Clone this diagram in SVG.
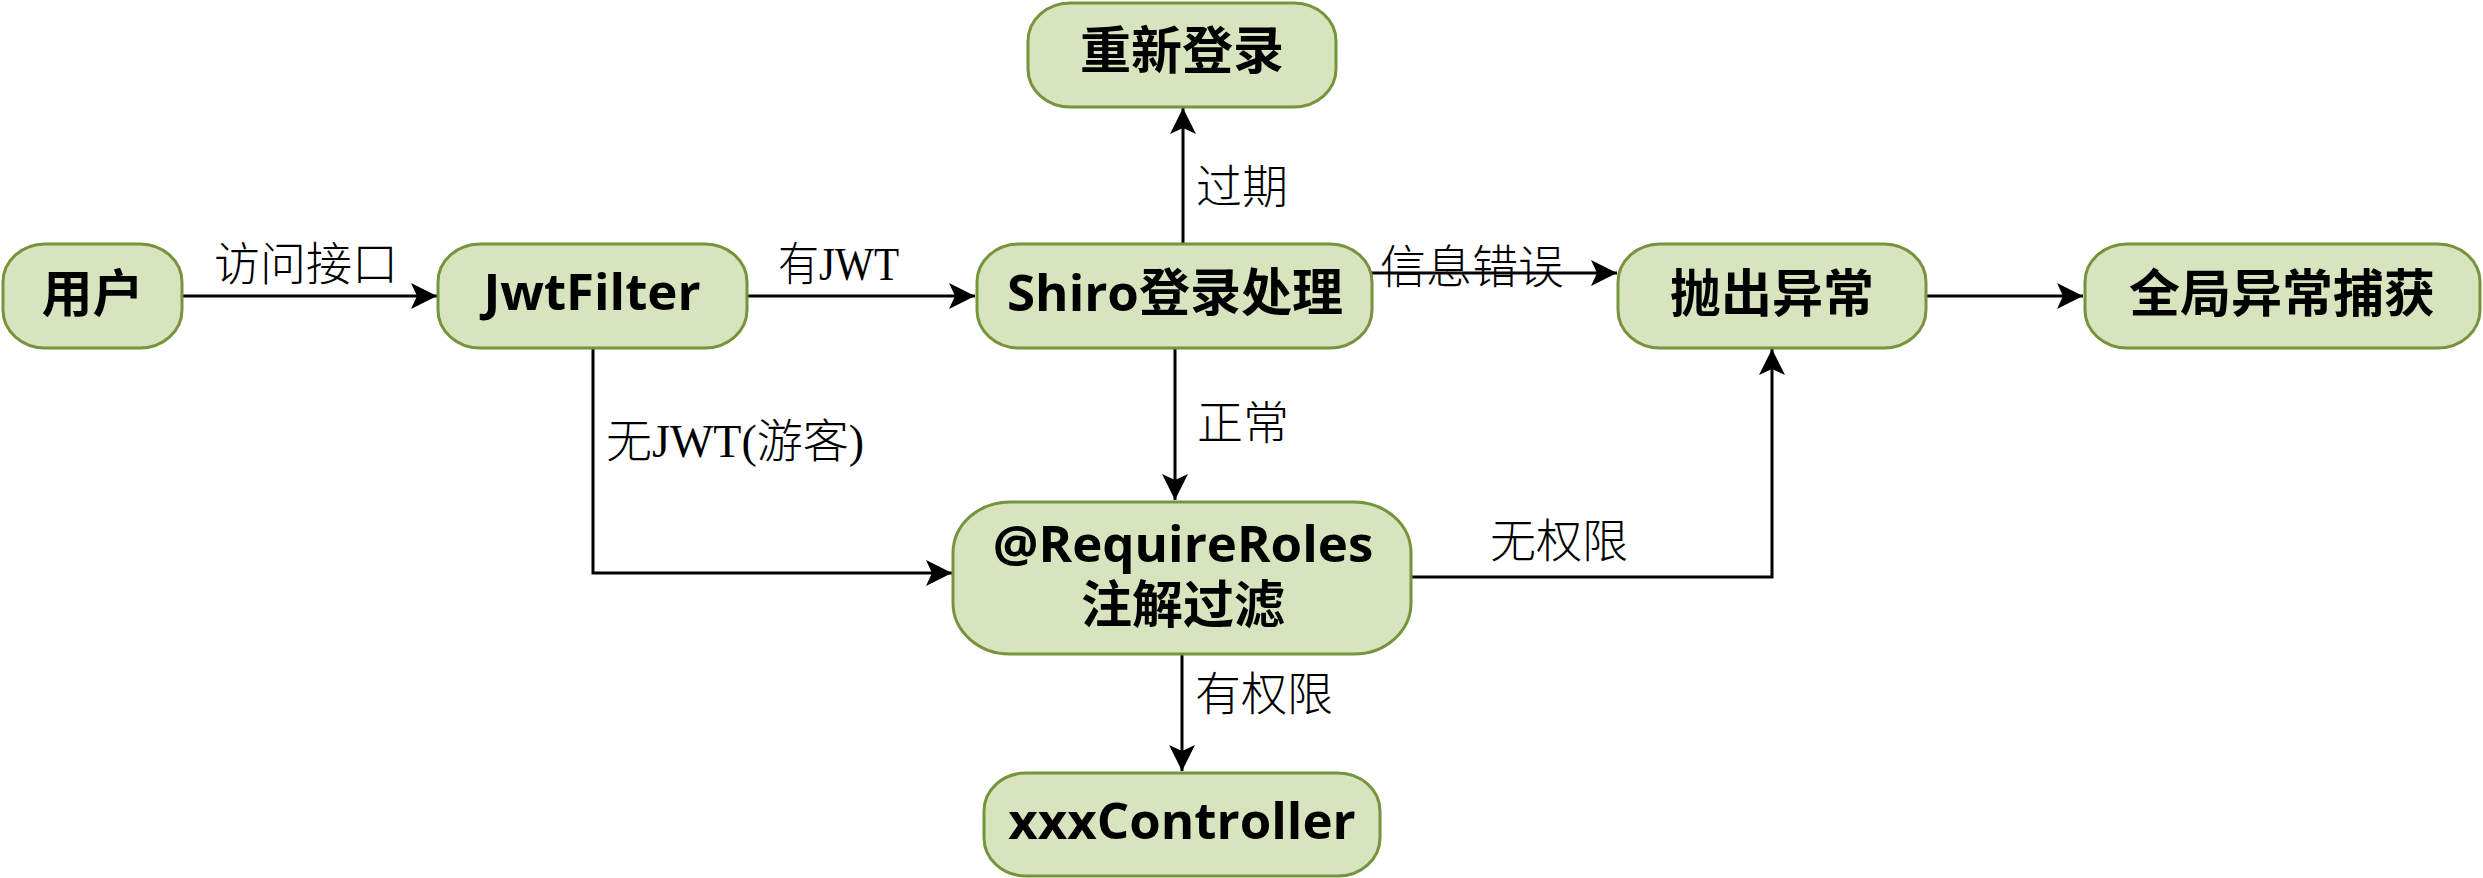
<svg xmlns="http://www.w3.org/2000/svg" width="2483" height="878" viewBox="0 0 2483 878">
<style>
.node rect{fill:#d7e4bd;stroke:#77933c;stroke-width:3}
.nt{font-family:"Open Sans","Noto Sans CJK SC",sans-serif;font-weight:bold;font-size:51px;fill:#000;text-anchor:middle}
.lbl{font-family:"Liberation Serif","Noto Sans CJK SC",serif;font-size:46px;fill:#000;font-weight:300}
.edge{fill:none;stroke:#000;stroke-width:3}
</style>
<defs>
<marker id="arr" markerUnits="userSpaceOnUse" markerWidth="28" markerHeight="28" viewBox="0 0 28 28" refX="26" refY="14" orient="auto">
<path d="M0,1 L26,14 L0,27 L6,14 Z" fill="#000"/>
</marker>
</defs>
<rect width="2483" height="878" fill="#fff"/>
<g id="connectors">
<path class="edge" d="M182,296 H437" marker-end="url(#arr)"/>
<path class="edge" d="M747,296 H975" marker-end="url(#arr)"/>
<path class="edge" d="M1183,244 V108" marker-end="url(#arr)"/>
<path class="edge" d="M1368,273 H1617" marker-end="url(#arr)"/>
<path class="edge" d="M1927,296 H2083" marker-end="url(#arr)"/>
<path class="edge" d="M1175,348 V500" marker-end="url(#arr)"/>
<path class="edge" d="M593,348 V573 H952" marker-end="url(#arr)"/>
<path class="edge" d="M1411,577 H1772 V349" marker-end="url(#arr)"/>
<path class="edge" d="M1182,654 V771" marker-end="url(#arr)"/>
<text class="lbl" x="214" y="280">访问接口</text>
<text class="lbl" x="778" y="280" textLength="121" lengthAdjust="spacingAndGlyphs">有JWT</text>
<text class="lbl" x="606" y="457">无JWT(游客)</text>
<text class="lbl" x="1196" y="203">过期</text>
<text class="lbl" x="1380" y="283">信息错误</text>
<text class="lbl" x="1197" y="439">正常</text>
<text class="lbl" x="1490" y="557">无权限</text>
<text class="lbl" x="1195" y="710">有权限</text>
</g>
<g id="n-user" class="node">
<rect x="3" y="244" width="179" height="104" rx="42" ry="38"/>
<text class="nt" x="92.5" y="312">用户</text>
</g>
<g id="n-jwtfilter" class="node">
<rect x="438" y="244" width="309" height="104" rx="42" ry="38"/>
<text class="nt" x="592" y="310">JwtFilter</text>
</g>
<g id="n-shiro" class="node">
<rect x="977" y="244" width="395" height="104" rx="42" ry="38"/>
<text class="nt" x="1175" y="311">Shiro登录处理</text>
</g>
<g id="n-relogin" class="node">
<rect x="1028" y="3" width="308" height="104" rx="42" ry="38"/>
<text class="nt" x="1182" y="69">重新登录</text>
</g>
<g id="n-throw" class="node">
<rect x="1618" y="244" width="308" height="104" rx="42" ry="38"/>
<text class="nt" x="1772" y="312">抛出异常</text>
</g>
<g id="n-global" class="node">
<rect x="2085" y="244" width="395" height="104" rx="42" ry="38"/>
<text class="nt" x="2282" y="312">全局异常捕获</text>
</g>
<g id="n-roles" class="node">
<rect x="953" y="502" width="458" height="152" rx="57" ry="51"/>
<text class="nt" x="1183" y="562">@RequireRoles<tspan x="1183" dy="61">注解过滤</tspan></text>
</g>
<g id="n-controller" class="node">
<rect x="984" y="773" width="396" height="103" rx="42" ry="38"/>
<text class="nt" x="1182" y="839">xxxController</text>
</g>
</svg>
